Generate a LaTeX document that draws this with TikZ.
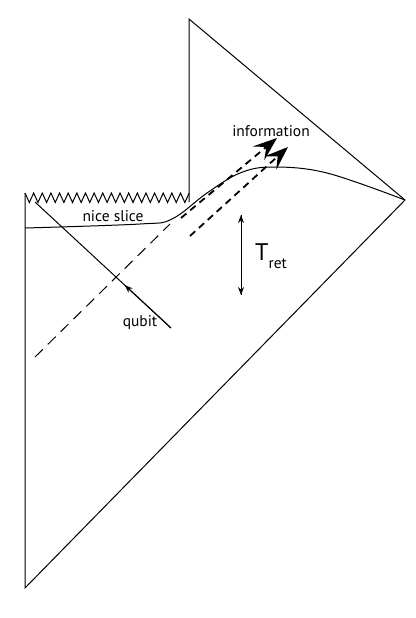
\documentclass[tikz,border=0pt]{standalone}
\usepackage{fontspec}
\setmainfont{PT Sans}
\usetikzlibrary{arrows.meta,calc}

\begin{document}
\begin{tikzpicture}[
    x=1pt, y=-1pt,
    every node/.style={font=\fontsize{15.5}{18}\selectfont, inner sep=1pt},
    edge/.style={line width=1pt},
    lightdash/.style={line width=1pt, dash pattern=on 11pt off 7pt},
    sigdash/.style={line width=1.8pt, dash pattern=on 7pt off 5pt, -{Stealth[length=24pt,width=18pt,inset=10pt]}},
    smalltip/.style={-{Stealth[length=8pt,width=6pt]}}
  ]
  \useasboundingbox (0,0) rectangle (415,618);

  % corners
  \coordinate (bot) at (25,588);
  \coordinate (sl) at (25,193);
  \coordinate (sr) at (189,202);
  \coordinate (top) at (189,19);
  \coordinate (inf) at (405,200);

  % boundary
  \draw[edge] (sl) -- (bot) -- (inf) -- (top) -- (sr);
  % singularity
  \draw[edge] (sl) \foreach \i in {1,...,19} {-- ++(4.32,9.5) -- ++(4.32,-9.5)};

  % nice slice
  \draw[edge] plot[smooth, tension=0.6] coordinates {(25,228) (140,224) (172,219) (207,193) (240,173) (273,167) (327,173) (405,200)};
  \node (slice) at (113,216) {nice slice};

  % qubit
  \coordinate (qa) at (35,202);
  \coordinate (qb) at (171,328);
  \draw[edge] (qa) -- (qb);
  \draw[edge, smalltip] (qb) -- ($(qa)!0.66!(qb)$);
  \node (qubit) at (140,323) {qubit};

  % infalling light ray
  \coordinate (la) at (35,357);
  \coordinate (lb) at (170,224);
  \draw[lightdash] (la) -- (lb);

  % information
  \coordinate (ia) at (181,218);
  \coordinate (ib) at (277,138);
  \coordinate (ja) at (190,236);
  \coordinate (jb) at (288,147);
  \draw[sigdash] (ia) -- (ib);
  \draw[sigdash] (ja) -- (jb);
  \node (info) at (271,131) {information};

  % retention time
  \coordinate (ta) at (241,215);
  \coordinate (tb) at (241,295);
  \draw[edge, smalltip] (ta) -- (tb);
  \draw[edge, smalltip] (tb) -- (ta);
  \node[anchor=base west] (tret) at (254,260) {\fontsize{24}{28}\selectfont T\raisebox{-8pt}{\fontsize{15.5}{18}\selectfont ret}};

\end{tikzpicture}
\end{document}
